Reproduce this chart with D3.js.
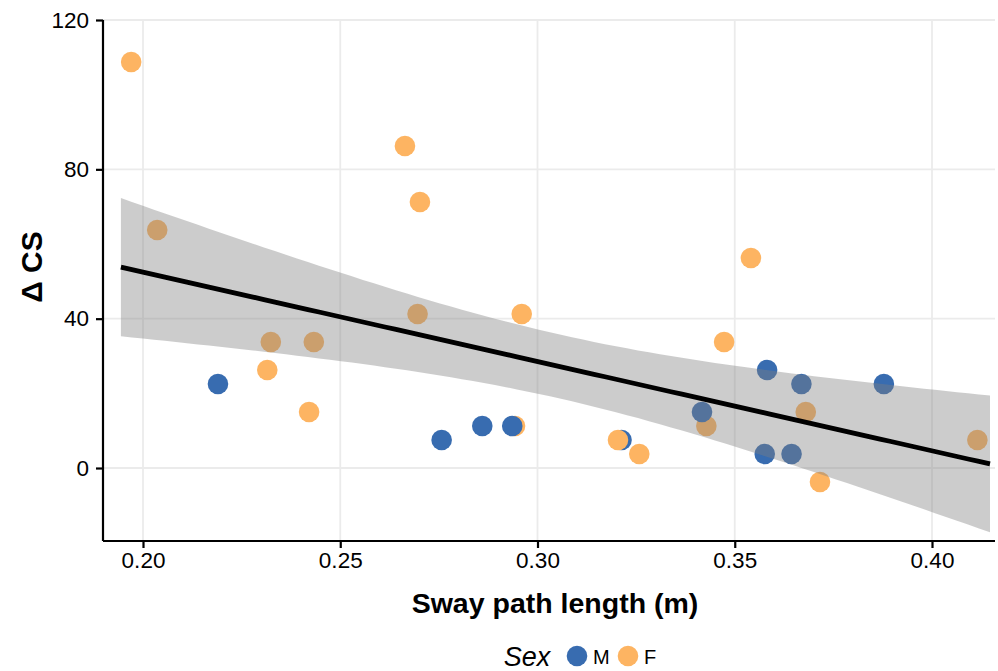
<!DOCTYPE html>
<html>
<head>
<meta charset="utf-8">
<script src="https://cdn.jsdelivr.net/npm/d3@7/dist/d3.min.js"></script>
<style>
  html, body { margin: 0; padding: 0; background: #ffffff; }
  svg { display: block; font-family: "Liberation Sans", Arial, Helvetica, sans-serif; }
</style>
</head>
<body>
<svg id="chart" width="998" height="671"></svg>
<script>
// Sway path length (m) vs change in CS, one point per participant, drawn in this order
const sway = [0.1970, 0.2036, 0.2190, 0.2315, 0.2324, 0.2421, 0.2433, 0.2664, 0.2696, 0.2702,
              0.2757, 0.2860, 0.2943, 0.2936, 0.2960, 0.3213, 0.3204, 0.3258, 0.3428, 0.3417,
              0.3473, 0.3541, 0.3576, 0.3582, 0.3644, 0.3669, 0.3680, 0.3716, 0.3878, 0.4115];
const deltaCS = [108.75, 63.75, 22.5, 26.25, 33.75, 15, 33.75, 86.25, 41.25, 71.25,
                 7.5, 11.25, 11.25, 11.25, 41.25, 7.5, 7.5, 3.75, 11.25, 15,
                 33.75, 56.25, 3.75, 26.25, 3.75, 22.5, 15, -3.75, 22.5, 7.5];
const sex = ["F", "F", "M", "F", "F", "F", "F", "F", "F", "F",
             "M", "M", "F", "M", "F", "M", "F", "F", "F", "M",
             "F", "F", "M", "M", "M", "M", "F", "F", "M", "F"];

const sexLevels = ["M", "F"];
const sexColors = ["#386cb0", "#fdb462"];
const xTicks = [0.20, 0.25, 0.30, 0.35, 0.40];
const yTicks = [0, 40, 80, 120];
const xDomain = [0.18986, 0.41597];
const yDomain = [-19.55, 120];
const fitRange = [0.1944, 0.4147];   // x span of the fitted line
const tCrit = 2.048;                 // t quantile, 95% CI, df = 28

(function draw() {
  const svg = d3.select("#chart");
  const W = 998, H = 671;
  const pLeft = 103, pRight = 995, pTop = 20, pBottom = 541;

  svg.append("rect").attr("width", W).attr("height", H).attr("fill", "#ffffff");

  const x = d3.scaleLinear().domain(xDomain).range([pLeft, pRight]);
  const y = d3.scaleLinear().domain(yDomain).range([pBottom, pTop]);
  const color = d3.scaleOrdinal().domain(sexLevels).range(sexColors);

  const data = sway.map((v, i) => ({ x: v, y: deltaCS[i], sex: sex[i] }));

  // grid
  const grid = svg.append("g");
  grid.selectAll("line.gx").data(xTicks).join("line")
    .attr("x1", d => x(d)).attr("x2", d => x(d))
    .attr("y1", pTop).attr("y2", pBottom)
    .attr("stroke", "#ebebeb").attr("stroke-width", 1.8);
  grid.selectAll("line.gy").data(yTicks).join("line")
    .attr("x1", pLeft).attr("x2", pRight)
    .attr("y1", d => y(d)).attr("y2", d => y(d))
    .attr("stroke", "#ebebeb").attr("stroke-width", 1.8);

  // points
  svg.append("g").selectAll("circle").data(data).join("circle")
    .attr("cx", d => x(d.x)).attr("cy", d => y(d.y))
    .attr("r", 10.3)
    .attr("fill", d => color(d.sex));

  // linear model fit with 95% confidence band
  const n = data.length;
  const mx = d3.mean(data, d => d.x), my = d3.mean(data, d => d.y);
  const sxx = d3.sum(data, d => (d.x - mx) ** 2);
  const sxy = d3.sum(data, d => (d.x - mx) * (d.y - my));
  const slope = sxy / sxx, intercept = my - slope * mx;
  const rss = d3.sum(data, d => (d.y - (intercept + slope * d.x)) ** 2);
  const sigma = Math.sqrt(rss / (n - 2));
  const xs = d3.range(80).map(i => fitRange[0] + (fitRange[1] - fitRange[0]) * i / 79);
  const fit = xs.map(gx => {
    const fx = intercept + slope * gx;
    const se = sigma * Math.sqrt(1 / n + (gx - mx) ** 2 / sxx);
    return { x: gx, fit: fx, lo: fx - tCrit * se, hi: fx + tCrit * se };
  });

  svg.append("path").datum(fit)
    .attr("d", d3.area().x(d => x(d.x)).y0(d => y(d.lo)).y1(d => y(d.hi)))
    .attr("fill", "#7f7f7f").attr("fill-opacity", 0.4);

  svg.append("path").datum(fit)
    .attr("d", d3.line().x(d => x(d.x)).y(d => y(d.fit)))
    .attr("fill", "none").attr("stroke", "#000000").attr("stroke-width", 4.8);

  // axes
  const xAxis = svg.append("g").attr("transform", `translate(0,${pBottom})`)
    .call(d3.axisBottom(x).tickValues(xTicks).tickFormat(d3.format(".2f")).tickSize(7).tickPadding(4));
  const yAxis = svg.append("g").attr("transform", `translate(${pLeft},0)`)
    .call(d3.axisLeft(y).tickValues(yTicks).tickSize(7).tickPadding(7));
  [xAxis, yAxis].forEach(a => {
    a.select(".domain").attr("stroke", "#000000").attr("stroke-width", 2.2);
    a.selectAll(".tick line").attr("stroke", "#000000").attr("stroke-width", 2.2);
    a.selectAll(".tick text").attr("fill", "#000000")
      .style("font-size", "22.5px")
      .style("font-family", "'Liberation Sans', Arial, Helvetica, sans-serif");
  });
  xAxis.select(".domain").attr("d", `M${pLeft},0H${pRight}`);
  yAxis.select(".domain").attr("d", `M0,${pTop}V${pBottom}`);

  // axis titles
  svg.append("text")
    .attr("x", 555).attr("y", 613)
    .attr("text-anchor", "middle")
    .style("font-size", "28.5px").style("font-weight", "bold")
    .text("Sway path length (m)");
  svg.append("text")
    .attr("transform", "translate(42,267) rotate(-90)")
    .attr("text-anchor", "middle")
    .style("font-size", "30px").style("font-weight", "bold")
    .text("\u0394 CS");

  // legend
  const legend = svg.append("g");
  legend.append("text")
    .attr("x", 527).attr("y", 666)
    .attr("text-anchor", "middle")
    .style("font-size", "27px").style("font-style", "italic")
    .text("Sex");
  const keyX = [577, 628];
  sexLevels.forEach((lv, i) => {
    legend.append("circle").attr("cx", keyX[i]).attr("cy", 656).attr("r", 10.3).attr("fill", color(lv));
    legend.append("text")
      .attr("x", keyX[i] + 16).attr("y", 664)
      .style("font-size", "20px")
      .text(lv);
  });
})();
</script>
</body>
</html>
